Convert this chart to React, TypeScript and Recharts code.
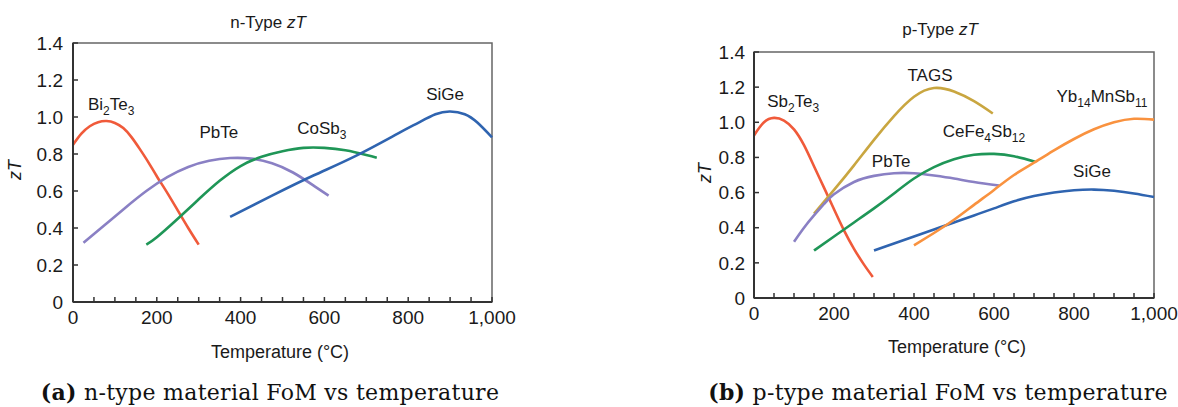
import React from "react";
import { LineChart, Line, XAxis, YAxis, ReferenceArea, ReferenceDot } from "recharts";

// temperature (°C), zT pairs
const nBi2Te3 = [[0, 0.85], [20, 0.91], [40, 0.95], [60, 0.972], [80, 0.978], [100, 0.968], [120, 0.94], [140, 0.89], [160, 0.825], [180, 0.755], [200, 0.68], [225, 0.59], [250, 0.495], [275, 0.4], [300, 0.31]];
const nPbTe = [[25, 0.32], [75, 0.415], [125, 0.51], [175, 0.6], [225, 0.675], [275, 0.73], [325, 0.763], [375, 0.778], [425, 0.775], [475, 0.75], [525, 0.7], [575, 0.628], [610, 0.575]];
const nCoSb3 = [[175, 0.31], [200, 0.35], [250, 0.45], [300, 0.555], [350, 0.655], [400, 0.735], [450, 0.785], [500, 0.815], [550, 0.833], [600, 0.833], [650, 0.82], [700, 0.795], [725, 0.78]];
const nSiGe = [[375, 0.46], [475, 0.575], [575, 0.685], [675, 0.79], [775, 0.91], [825, 0.97], [865, 1.015], [900, 1.03], [935, 1.015], [965, 0.97], [1000, 0.89]];

const pSb2Te3 = [[0, 0.925], [25, 1.0], [50, 1.025], [75, 1.01], [100, 0.96], [125, 0.87], [150, 0.75], [175, 0.628], [200, 0.505], [225, 0.385], [250, 0.28], [275, 0.19], [297, 0.12]];
const pTAGS = [[150, 0.48], [200, 0.615], [250, 0.755], [300, 0.9], [350, 1.035], [400, 1.145], [450, 1.195], [500, 1.175], [550, 1.12], [597, 1.05]];
const pPbTe = [[100, 0.32], [125, 0.4], [150, 0.47], [175, 0.535], [200, 0.59], [250, 0.66], [300, 0.695], [350, 0.71], [400, 0.71], [450, 0.697], [500, 0.68], [550, 0.66], [613, 0.64]];
const pCeFe4Sb12 = [[150, 0.27], [200, 0.35], [250, 0.43], [300, 0.51], [350, 0.595], [400, 0.68], [450, 0.745], [500, 0.79], [550, 0.815], [600, 0.82], [650, 0.807], [703, 0.775]];
const pSiGe = [[300, 0.27], [350, 0.31], [400, 0.35], [450, 0.39], [500, 0.43], [550, 0.47], [600, 0.51], [650, 0.55], [700, 0.58], [750, 0.6], [800, 0.613], [850, 0.617], [900, 0.61], [950, 0.595], [1000, 0.575]];
const pYb14MnSb11 = [[400, 0.3], [450, 0.37], [500, 0.445], [550, 0.53], [600, 0.615], [650, 0.7], [700, 0.77], [750, 0.84], [800, 0.905], [850, 0.96], [900, 1.0], [950, 1.02], [1000, 1.015]];

const xTicks = [0, 50, 100, 150, 200, 250, 300, 350, 400, 450, 500, 550, 600, 650, 700, 750, 800, 850, 900, 950, 1000];
const yTicks = [0, 0.2, 0.4, 0.6, 0.8, 1.0, 1.2, 1.4];

// curve name labels: [text, T, zT]  ("_" marks a subscript)
const nLabels = [["Bi_2Te_3", 91, 1.04], ["PbTe", 348, 0.886], ["CoSb_3", 594, 0.91], ["SiGe", 888, 1.09]];
const pLabels = [["Sb_2Te_3", 98, 1.087], ["TAGS", 440, 1.235], ["Yb_14MnSb_11", 870, 1.117], ["CeFe_4Sb_12", 575, 0.918], ["PbTe", 343, 0.747], ["SiGe", 845, 0.69]];

const C = {
  red: "#f05a3a",
  purple: "#8a80c4",
  green: "#1f9657",
  blue: "#2f64b0",
  gold: "#c9a640",
  orange: "#f9923f",
};

const SANS = "'Liberation Sans', Arial, sans-serif";
const INK = "#1a1a1a";

const toPts = (arr: number[][]) => arr.map(([t, z]) => ({ t, z }));

const fmtX = (v: number) => (v % 200 === 0 ? (v === 1000 ? "1,000" : String(v)) : "");
const fmtY = (v: number) => (v === 0 ? "0" : v.toFixed(1));

function SubText({ cx, cy, text }: any) {
  const parts = text.split(/(_\d+)/).filter((s: string) => s.length);
  let shift = 0;
  return (
    <text x={cx} y={cy} textAnchor="middle" fontFamily={SANS} fontSize={17} fill={INK}>
      {parts.map((p: string, i: number) => {
        if (p.startsWith("_")) {
          const dy = 5 - shift;
          shift = 5;
          return <tspan key={i} dy={dy} fontSize={12}>{p.slice(1)}</tspan>;
        }
        const dy = -shift;
        shift = 0;
        return <tspan key={i} dy={dy}>{p}</tspan>;
      })}
    </text>
  );
}

function Panel({ left, width, margin, series, labels, yTickMargin }: any) {
  return (
    <div style={{ position: "absolute", left, top: 0 }}>
      <LineChart width={width} height={370} margin={margin}>
        <XAxis
          dataKey="t"
          type="number"
          domain={[0, 1000]}
          ticks={xTicks}
          interval={0}
          tickFormatter={fmtX}
          height={30}
          tickSize={-5}
          tickMargin={14}
          axisLine={{ stroke: "#333", strokeWidth: 2 }}
          tickLine={{ stroke: "#333", strokeWidth: 1.5 }}
          tick={{ fill: INK, fontSize: 19, fontFamily: SANS }}
          allowDuplicatedCategory={false}
        />
        <YAxis
          type="number"
          domain={[0, 1.4]}
          ticks={yTicks}
          interval={0}
          tickFormatter={fmtY}
          width={margin.yw}
          tickSize={-5}
          tickMargin={yTickMargin}
          axisLine={{ stroke: "#333", strokeWidth: 2 }}
          tickLine={{ stroke: "#333", strokeWidth: 1.5 }}
          tick={{ fill: INK, fontSize: 19, fontFamily: SANS }}
        />
        <ReferenceArea x1={0} x2={1000} y1={0} y2={1.4} fill="none" stroke="#666" strokeWidth={1.5} />
        {series.map((s: any) => (
          <Line
            key={s.name}
            data={toPts(s.data)}
            dataKey="z"
            type="natural"
            stroke={s.color}
            strokeWidth={2.6}
            dot={false}
            isAnimationActive={false}
          />
        ))}
        {labels.map(([text, t, z]: any) => (
          <ReferenceDot
            key={text}
            x={t}
            y={z}
            r={0}
            shape={(p: any) => <SubText cx={p.cx} cy={p.cy} text={text} />}
          />
        ))}
      </LineChart>
    </div>
  );
}

const abs = (x: number, y: number, extra: any = {}) => ({
  position: "absolute" as const,
  left: x,
  top: y,
  transform: "translate(-50%, -50%)",
  whiteSpace: "nowrap" as const,
  fontFamily: SANS,
  color: INK,
  ...extra,
});

export default function App() {
  return (
    <div style={{ position: "absolute", left: 0, top: 0, width: 1178, height: 407, background: "#fff", overflow: "hidden" }}>
      <Panel
        left={0}
        width={520}
        margin={{ top: 43, right: 28, bottom: 38, left: 0, yw: 73 }}
        yTickMargin={15}
        series={[
          { name: "Bi2Te3", data: nBi2Te3, color: C.red },
          { name: "PbTe", data: nPbTe, color: C.purple },
          { name: "CoSb3", data: nCoSb3, color: C.green },
          { name: "SiGe", data: nSiGe, color: C.blue },
        ]}
        labels={nLabels}
      />
      <Panel
        left={680}
        width={498}
        margin={{ top: 52, right: 24, bottom: 42, left: 0, yw: 74 }}
        yTickMargin={14}
        series={[
          { name: "Sb2Te3", data: pSb2Te3, color: C.red },
          { name: "TAGS", data: pTAGS, color: C.gold },
          { name: "PbTe", data: pPbTe, color: C.purple },
          { name: "CeFe4Sb12", data: pCeFe4Sb12, color: C.green },
          { name: "SiGe", data: pSiGe, color: C.blue },
          { name: "Yb14MnSb11", data: pYb14MnSb11, color: C.orange },
        ]}
        labels={pLabels}
      />

      <div style={abs(268, 23, { fontSize: 17 })}>n-Type <i>zT</i></div>
      <div style={abs(280, 352, { fontSize: 18 })}>Temperature (°C)</div>
      <div style={abs(15, 170, { fontSize: 18, fontStyle: "italic", transform: "translate(-50%, -50%) rotate(-90deg)" })}>zT</div>

      <div style={abs(940, 30, { fontSize: 17 })}>p-Type <i>zT</i></div>
      <div style={abs(957, 347, { fontSize: 18 })}>Temperature (°C)</div>
      <div style={abs(705, 173, { fontSize: 18, fontStyle: "italic", transform: "translate(-50%, -50%) rotate(-90deg)" })}>zT</div>

      <div style={abs(270, 392, { fontFamily: "'DejaVu Serif', serif", fontSize: 22, letterSpacing: 0.3, color: "#111" })}>
        <b>(a)</b> n-type material FoM vs temperature
      </div>
      <div style={abs(938, 392, { fontFamily: "'DejaVu Serif', serif", fontSize: 22, letterSpacing: 0.3, color: "#111" })}>
        <b>(b)</b> p-type material FoM vs temperature
      </div>
    </div>
  );
}
